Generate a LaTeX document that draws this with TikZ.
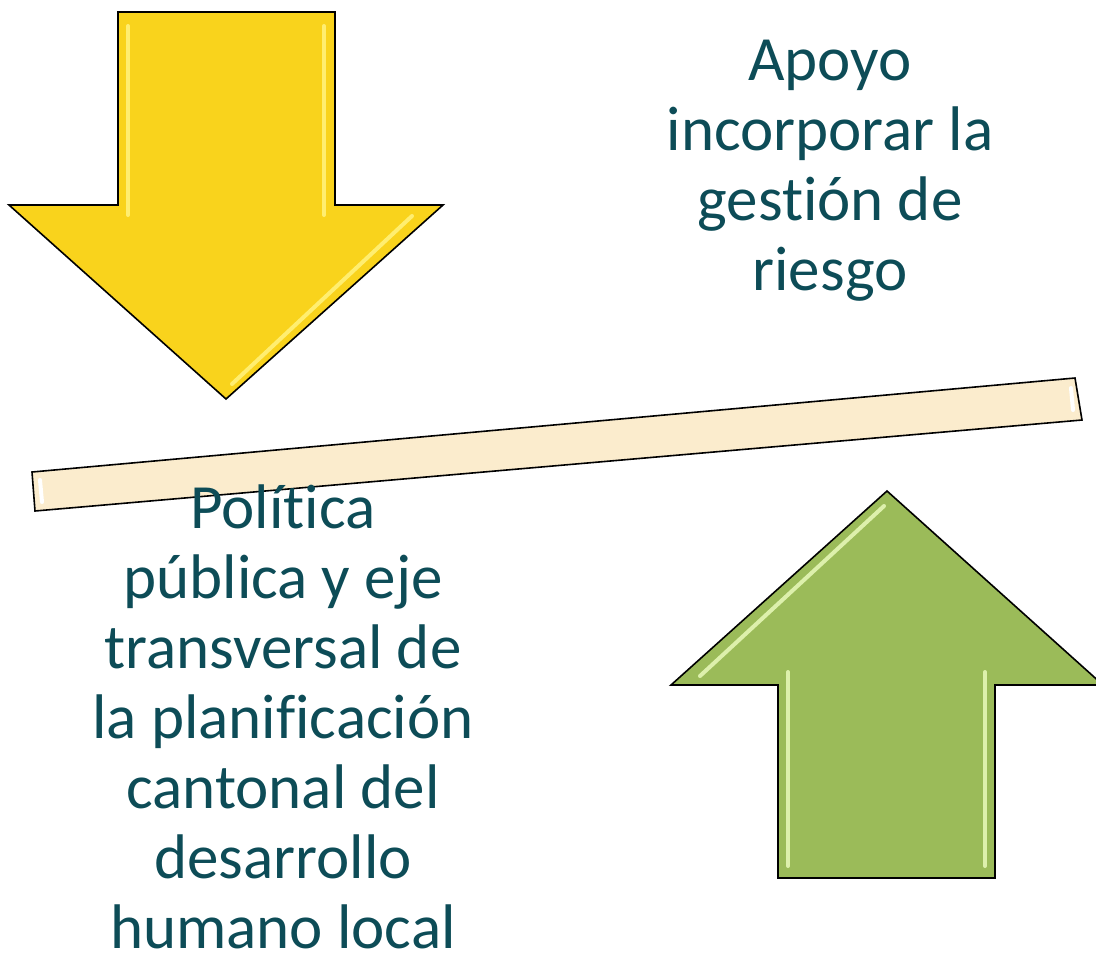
\documentclass[tikz,border=0pt]{standalone}
\usepackage{fontspec}
\setmainfont[Ligatures={NoCommon}]{Carlito}
\definecolor{amarillo}{HTML}{F9D31C}
\definecolor{amarilloluz}{HTML}{FFEE70}
\definecolor{verde}{HTML}{9BBB59}
\definecolor{verdeluz}{HTML}{DDF0AC}
\definecolor{barra}{HTML}{FBECCD}
\definecolor{texto}{HTML}{0D4C57}
\newcommand{\sinlig}{\kern0pt }
\tikzset{
  flecha/.style={draw=black,line width=0.8pt,line join=miter},
  brillo/.style={line width=2pt,line cap=round},
  bloque/.style={align=center,text=texto,inner sep=0pt,font=\fontsize{31.5}{35}\selectfont}
}
\begin{document}
\begin{tikzpicture}[x=0.5pt,y=-0.5pt]
            \useasboundingbox (0,0) rectangle (1096,959);

            % barra inclinada
            \draw[flecha,fill=barra] (32,472) -- (1075,378) -- (1082,420) -- (35,511) -- cycle;
            \draw[brillo,white] (1071,388) -- (1073,410);
            \draw[brillo,white] (40,480) -- (42,502);

            % flecha amarilla
            \draw[flecha,fill=amarillo] (118,12) -- (335,12) -- (335,205) -- (443,205)
                -- (226,399) -- (9,205) -- (118,205) -- cycle;
            \draw[brillo,amarilloluz] (128,26) -- (128,215);
            \draw[brillo,amarilloluz] (324,26) -- (324,215);
            \draw[brillo,amarilloluz] (412,216) -- (232,384);

            % flecha verde
            \draw[flecha,fill=verde] (887,491) -- (1103,685) -- (995,685) -- (995,878)
                -- (778,878) -- (778,685) -- (671,685) -- cycle;
            \draw[brillo,verdeluz] (788,672) -- (788,866);
            \draw[brillo,verdeluz] (985,672) -- (985,866);
            \draw[brillo,verdeluz] (700,676) -- (884,506);

            % textos
            \node[bloque,anchor=north] (apoyo) at (830,40)
                {Apoyo\\incorporar la\\gest\sinlig ión de\\riesgo};
            \node[bloque,anchor=north] (politica) at (283,484)
                {Polít\sinlig ica\\pública y eje\\transversal de\\la planif\sinlig icación\\cantonal del\\desarrollo\\humano local};
\end{tikzpicture}
\end{document}
